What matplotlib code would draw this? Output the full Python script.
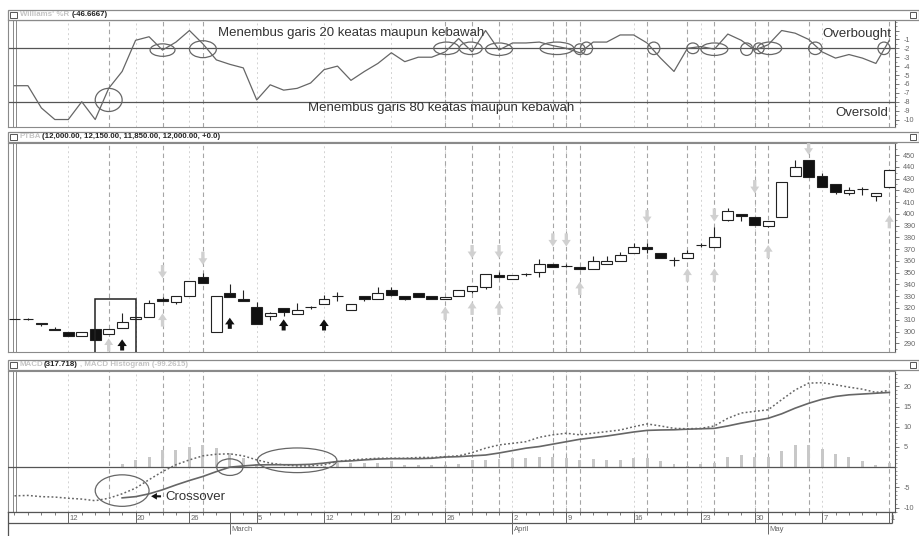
import matplotlib
matplotlib.use("Agg")
import matplotlib.pyplot as plt
from matplotlib.patches import Ellipse, Rectangle
from matplotlib.ticker import MultipleLocator
import numpy as np

plt.rcParams["font.family"] = ["Liberation Sans", "DejaVu Sans"]

W, H = 920, 536

# trading days (index), 66 sessions
days = np.arange(66)

# Williams %R
willr = [-62, -62, -87, -100, -100, -80, -100, -65, -46, -11,
         -7, -22, -13, 0, -15, -33, -38, -42, -78, -61,
         -67, -65, -59, -44, -40, -56, -46, -37, -25, -35,
         -30, -30, -24, -9, -24, 0, -22, -14, -14, -13,
         -17, -20, -25, -13, -13, -5, -5, -14, -31, -46,
         -20, -18, -21, -4, -11, -22, -16, 0, -3, -10,
         -24, -31, -27, -31, -37, -11]

# PTBA candles
opens = [311, 311, 307.5, 302.5, 300, 296, 302.5, 298, 303, 310.5,
         312.5, 328, 325.5, 330, 346, 300, 333, 328, 320.5, 313.5,
         320, 315, 320.6, 323, 330.5, 318, 330, 328, 335, 330,
         332.5, 330, 328, 330, 334.5, 338, 348, 345, 348.6, 350.5,
         357, 355.7, 355, 353, 357, 360, 367, 372, 367, 360.8,
         362.5, 373.5, 372, 395, 399.6, 397, 390, 397, 432.2, 445.8,
         432.2, 425, 417.5, 421, 415.2, 422.6]
closes = [311, 311, 306.5, 301.5, 296.5, 300, 293, 302, 308, 312.5,
          324.5, 326, 330, 343, 341, 330, 329, 326, 306.5, 316,
          316.5, 318, 320.6, 328, 330.5, 323, 328, 332.5, 331, 328,
          329, 328, 329.5, 335, 339, 348.5, 346, 348, 348.6, 357,
          355, 355.7, 353, 360, 360, 365, 372, 370.5, 362.7, 360.8,
          367, 373.5, 380, 402, 398.3, 390.5, 394, 427.3, 440, 431,
          423, 418.3, 420.3, 421, 417.4, 437.3]
highs = [311, 311.5, 307.5, 303.5, 300, 300, 302.5, 302, 316, 312.5,
         327, 329.5, 330, 343, 349.5, 330, 340, 335, 325, 316.5,
         320, 324, 322, 331, 334, 323, 330, 338, 338, 330,
         332.5, 330, 329.5, 335, 339, 348.5, 351, 348, 350, 362,
         357, 357, 355, 364, 364, 367.5, 375, 375, 367, 363.5,
         369.5, 375, 389, 405, 399.6, 397, 394, 427.3, 445.7, 445.8,
         435, 425, 422.5, 423, 417.4, 437.3]
lows = [311, 309.5, 305, 301.5, 296.5, 296, 293, 298, 303, 310.5,
        312.5, 326, 323, 330, 341, 300, 329, 326, 306.5, 309.8,
        313.5, 315, 319.5, 323, 326, 318, 326, 328, 330, 327,
        329, 328, 328, 330, 333, 336, 346, 345, 347, 346.5,
        355, 355, 353, 353, 357, 360, 367, 367, 362.7, 356,
        362.5, 372, 372, 393.5, 393.5, 390.5, 389, 397, 432.2, 431,
        423, 416.5, 416, 416, 411, 422.6]

# MACD (solid), signal (dotted), histogram
nan = np.nan
macd = [nan] * 8 + [-7.6, -7.3, -6.6, -5.6, -4.4, -3.3, -2.3, -1.1, 0.0, 0.3,
                    0.55, 0.6, 0.6, 0.6, 0.7, 1.0, 1.4, 1.55, 1.8, 2.0,
                    2.1, 2.1, 2.1, 2.2, 2.5, 2.6, 2.8, 3.0, 3.5, 4.1,
                    4.7, 5.1, 5.7, 6.3, 6.9, 7.3, 7.7, 8.2, 8.7, 9.1,
                    9.2, 9.25, 9.4, 9.5, 9.6, 10.2, 10.9, 11.5, 12.1, 13.2,
                    14.6, 15.8, 16.8, 17.5, 17.9, 18.1, 18.3, 18.5]
signal = [-7.1, -7.0, -7.3, -7.4, -7.7, -7.9, -8.3, -7.7, -6.6, -5.2,
          -3.1, -1.1, 0.6, 1.8, 2.8, 3.2, 3.3, 2.8, 1.8, 1.0,
          0.57, 0.3, 0.3, 0.57, 1.4, 1.8, 2.0, 2.2, 2.2, 2.2,
          2.4, 2.4, 2.6, 2.8, 3.6, 4.7, 5.5, 5.9, 6.3, 7.4,
          8.0, 8.4, 8.0, 8.4, 8.8, 9.2, 10.0, 10.7, 10.2, 9.6,
          9.5, 9.6, 10.2, 12.1, 13.4, 13.8, 14.2, 16.7, 19.1, 20.8,
          20.9, 20.4, 19.8, 19.3, 18.5, 19.0]
hist = [0] * 8 + [0.7, 1.8, 2.6, 4.3, 4.3, 5.1, 5.5, 4.7, 3.5, 2.2,
                  0.7, 0.15, 0.15, 0.15, 0.3, 0.3, 1.0, 1.0, 1.0, 1.1,
                  1.4, 0.6, 0.6, 0.6, 0.6, 0.7, 1.8, 1.8, 2.0, 2.2,
                  2.2, 2.6, 2.5, 2.2, 1.8, 2.0, 1.8, 1.8, 2.2, 2.2,
                  1.4, 0.7, 0.3, 0.7, 1.1, 2.6, 3.0, 2.6, 2.5, 3.9,
                  5.5, 5.5, 4.5, 3.2, 2.4, 1.6, 0.6, 1.0]

# date axis
date_pos = [4, 9, 13, 18, 23, 28, 32, 37, 41, 46, 51, 55, 60, 65]
date_lab = ["12", "20", "26", "5", "12", "20", "26", "2", "9", "16", "23", "30", "7", "1"]
month_pos = [16, 37, 56]
month_lab = ["March", "April", "May"]

# %R crossing signals (dashed lines) and weekly grid
signal_days = [7, 11, 14, 32, 34, 36, 40, 41, 42, 47, 50, 52, 55, 56, 59, 65]
week_days = [4, 9, 13, 18, 23, 28, 32, 37, 41, 46, 51, 55, 60]

# arrows on the price panel: (day, level)
grey_up = [(7, 288.6), (11, 309.8), (32, 315.5), (34, 319.7), (36, 319.7),
           (42, 336.7), (50, 348), (52, 348), (56, 367.9), (65, 393.3)]
grey_down = [(11, 350.9), (14, 362.2), (34, 367.9), (36, 367.9), (40, 377.8),
             (41, 377.8), (47, 397.6), (52, 399), (55, 423.1), (59, 455.7)]
black_up = [(8, 288.6), (16, 307), (20, 305.6), (23, 305.6)]

# ellipses marking crossings: (day, level, width, height)
wr_rings = [(7, -78, 2.0, 26), (11, -22, 1.85, 14), (14, -21, 2.0, 19),
            (32.1, -20, 1.9, 14), (33.9, -20, 1.7, 14), (36, -21, 2.0, 14),
            (40.3, -20, 2.5, 14), (42, -21, 0.8, 12), (42.5, -20, 0.9, 14),
            (47.5, -20, 0.9, 14), (50.4, -20, 0.9, 12), (52, -21, 2.0, 14),
            (54.4, -21, 0.9, 14), (55.3, -20, 0.8, 12), (56.1, -20, 1.8, 14),
            (59.5, -20, 1.0, 14), (64.6, -20, 0.9, 14)]
macd_rings = [(8, -5.8, 4.0, 7.8), (16, 0, 1.95, 4.1), (21, 1.7, 5.9, 6.1)]

fig = plt.figure(figsize=(W / 100, H / 100), dpi=100)
fig.patch.set_facecolor("white")


def add_ax(x0, y0, x1, y1):
    return fig.add_axes([x0 / W, 1 - y1 / H, (x1 - x0) / W, (y1 - y0) / H])


def header(y0, parts):
    fig.add_artist(Rectangle((8 / W, 1 - (y0 + 10) / H), 911 / W, 10 / H,
                             transform=fig.transFigure, facecolor="white",
                             edgecolor="#8a8a8a", lw=0.9))
    for xi in (10.5, 910):
        fig.add_artist(Rectangle((xi / W, 1 - (y0 + 8) / H), 6 / W, 6 / H,
                                 transform=fig.transFigure, facecolor="white",
                                 edgecolor="#555", lw=0.7))
    for x, txt, col in parts:
        fig.text(x / W, 1 - (y0 + 5) / H, txt, color=col, fontsize=5.7,
                 fontweight="bold", va="center", ha="left")


header(10, [(20, "Williams' %R", "#c4c4c4"), (72, "(-46.6667)", "#222")])
header(132, [(20, "PTBA", "#c4c4c4"),
             (42, "(12,000.00, 12,150.00, 11,850.00, 12,000.00, +0.0)", "#222")])
header(360, [(20, "MACD", "#c4c4c4"), (44, "(317.718)", "#222"),
             (80, ", MACD Histogram (-99.2615)", "#c4c4c4")])

ax_w = add_ax(8, 20, 895, 127)
ax_p = add_ax(8, 143, 895, 352)
ax_m = add_ax(8, 371, 895, 512)
ax_d = add_ax(8, 512, 895, 536)

xlim = (-0.48, 65.42)
for ax in (ax_w, ax_p, ax_m):
    ax.set_xlim(*xlim)
    ax.set_xticks([])
    ax.yaxis.tick_right()
    ax.tick_params(axis="y", which="major", length=3, width=0.7, color="#777",
                   labelsize=5.2, labelcolor="#666", pad=3)
    ax.tick_params(axis="y", which="minor", length=1.6, width=0.6, color="#888")
    for s in ax.spines.values():
        s.set_color("#8a8a8a")
        s.set_linewidth(0.8)
    ax.spines["right"].set_color("#555")
    for d in week_days:
        ax.axvline(d, color="#d2d2d2", lw=0.7, ls=(0, (2, 3)), zorder=0)
    for d in signal_days:
        ax.axvline(d, color="#a5a5a5", lw=0.8, ls=(0, (4, 3)), zorder=0)
    ax.axvline(-0.08, color="#888", lw=0.7, zorder=1)
    ax.axvline(0.12, color="#888", lw=0.7, zorder=1)

# Williams %R panel
ax_w.set_ylim(-108.4, 11.8)
ax_w.plot(days, willr, color="#666", lw=0.9, zorder=3)
ax_w.axhline(-20, color="#555", lw=0.9, zorder=2)
ax_w.axhline(-80, color="#555", lw=0.9, zorder=2)
ax_w.set_yticks(np.arange(0, -101, -10))
ax_w.set_yticklabels([""] + ["-%d" % k for k in range(1, 11)])
ax_w.yaxis.set_minor_locator(MultipleLocator(5))
for cx, cy, ew, eh in wr_rings:
    ax_w.add_patch(Ellipse((cx, cy), ew, eh, fill=False, edgecolor="#666", lw=0.9, zorder=4))
ax_w.text(15.1, -3, "Menembus garis 20 keatas maupun kebawah", fontsize=9.5,
          color="#333", va="center", ha="left")
ax_w.text(60.0, -4, "Overbought", fontsize=9.5, color="#333", va="center", ha="left")
ax_w.text(21.8, -87, "Menembus garis 80 keatas maupun kebawah", fontsize=9.5,
          color="#333", va="center", ha="left")
ax_w.text(61.0, -93, "Oversold", fontsize=9.5, color="#333", va="center", ha="left")

# price panel
ax_p.set_ylim(282.6, 460.2)
body_col = ["white" if c >= o else "#111" for o, c in zip(opens, closes)]
ax_p.vlines(days, lows, highs, color="#222", lw=0.8, zorder=2)
ax_p.bar(days, np.array(closes) - np.array(opens), bottom=opens, width=0.8,
         color=body_col, edgecolor="#222", lw=0.8, zorder=3)
ax_p.set_yticks(np.arange(290, 451, 10))
ax_p.set_yticklabels([str(v) for v in range(290, 451, 10)])
ax_p.yaxis.set_minor_locator(MultipleLocator(5))
ax_p.add_patch(Rectangle((6.0, 280), 3.0, 48, fill=False, edgecolor="#222", lw=1.1, zorder=4))


def arrow(ax, d, lvl, up, col, length, hw, tw):
    half = length / 2 * 1.389 / 1.177
    tip = lvl + half if up else lvl - half
    style = "simple,head_width=%s,head_length=0.6,tail_width=%s" % (hw, tw)
    ax.annotate("", xy=(d, tip), xytext=(0, -length if up else length),
                textcoords="offset points",
                arrowprops=dict(arrowstyle=style, facecolor=col, edgecolor="none",
                                lw=0, shrinkA=0, shrinkB=0, mutation_scale=8),
                zorder=5)


for d, lvl in grey_up:
    arrow(ax_p, d, lvl, True, "#d0d0d0", 9.5, 0.8, 0.3)
for d, lvl in grey_down:
    arrow(ax_p, d, lvl, False, "#d0d0d0", 9.5, 0.8, 0.3)
for d, lvl in black_up:
    arrow(ax_p, d, lvl, True, "#111", 8, 0.85, 0.36)

# MACD panel
ax_m.set_ylim(-11.1, 23.8)
ax_m.bar(days, hist, width=0.22, color="#c8c8c8", zorder=2)
ax_m.axhline(0, color="#555", lw=0.9, zorder=3)
ax_m.plot(days, macd, color="#666", lw=1.2, zorder=4)
ax_m.plot(days, signal, color="#666", lw=1.1, ls=(0, (1.2, 1.5)), zorder=4)
ax_m.set_yticks([20, 15, 10, 5, -5, -10])
ax_m.set_yticklabels(["20", "15", "10", "5", "-5", "-10"])
ax_m.yaxis.set_minor_locator(MultipleLocator(1))
for cx, cy, ew, eh in macd_rings:
    ax_m.add_patch(Ellipse((cx, cy), ew, eh, fill=False, edgecolor="#666", lw=0.9, zorder=5))
ax_m.annotate("Crossover", xy=(10.15, -7.2), xytext=(11.2, -7.3), fontsize=9.5,
              color="#333", va="center", ha="left",
              arrowprops=dict(arrowstyle="simple,head_width=0.8,head_length=0.7,tail_width=0.25",
                              facecolor="#111", edgecolor="none", lw=0,
                              shrinkA=1, shrinkB=0, mutation_scale=6))

# date axis
ax_d.set_xlim(*xlim)
ax_d.set_ylim(0, 24)
ax_d.set_xticks([])
ax_d.set_yticks([])
for k in ("right", "bottom"):
    ax_d.spines[k].set_visible(False)
for k in ("top", "left"):
    ax_d.spines[k].set_color("#555")
    ax_d.spines[k].set_linewidth(0.9)
ax_d.hlines(13, xlim[0], 65.2, color="#555", lw=0.9)
ax_d.vlines(65.2, 13, 24, color="#555", lw=0.9)
ax_d.vlines(days, 21, 24, color="#666", lw=0.6)
ax_d.vlines(date_pos, 13, 24, color="#666", lw=0.7)
ax_d.vlines(month_pos, 2, 24, color="#666", lw=0.7)
for d, lab in zip(date_pos, date_lab):
    ax_d.text(d + 0.1, 17.5, lab, fontsize=5.5, color="#666", va="center", ha="left")
for d, lab in zip(month_pos, month_lab):
    ax_d.text(d + 0.1, 6.5, lab, fontsize=5.5, color="#666", va="center", ha="left")

fig.savefig("out.png", dpi=100, facecolor="white")
